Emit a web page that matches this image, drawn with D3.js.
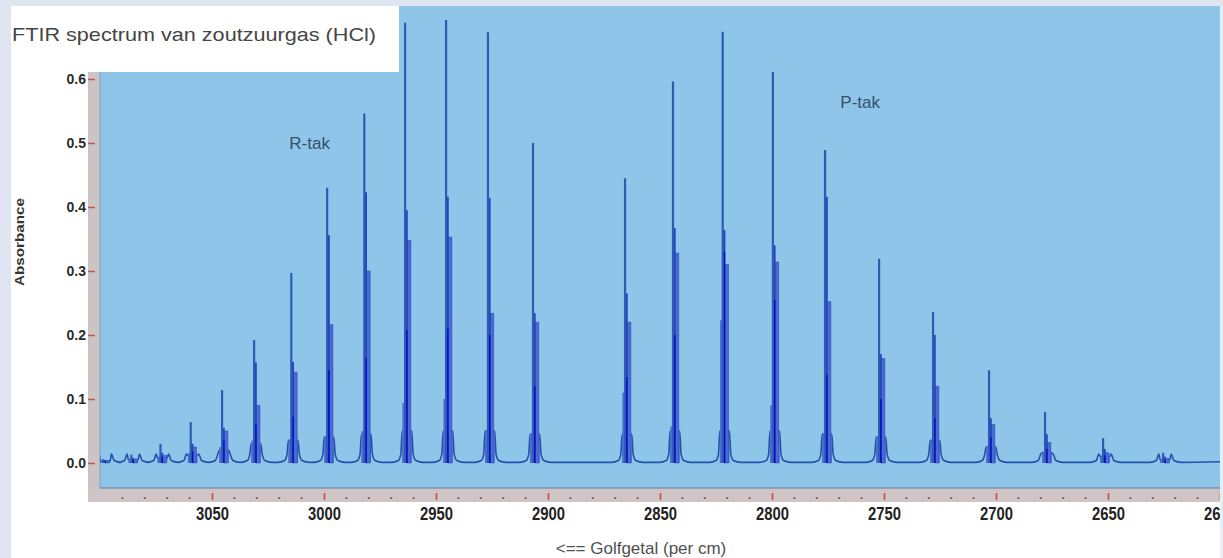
<!DOCTYPE html>
<html><head><meta charset="utf-8">
<script src="https://cdn.jsdelivr.net/npm/d3@7"></script>
<style>body{margin:0;background:#dfe6f1;} svg{display:block}</style>
</head><body><svg id="c" width="1223" height="558"></svg>
<script>
// ---- data ----
const peakWn  = [3098.5, 3086.0, 3073.0, 3059.5, 3045.5, 3031.2, 3014.6, 2998.6, 2982.0, 2963.8, 2945.5, 2926.8, 2906.7, 2865.6, 2844.2, 2822.0, 2799.6, 2776.3, 2752.2, 2728.1, 2703.1, 2678.1, 2652.2, 2625.4];
const mainH   = [0.006, 0.013, 0.030, 0.064, 0.114, 0.192, 0.297, 0.430, 0.546, 0.688, 0.692, 0.673, 0.500, 0.445, 0.596, 0.674, 0.611, 0.489, 0.319, 0.236, 0.145, 0.080, 0.039, 0.016];
const secondH = [0.004, 0.008, 0.016, 0.030, 0.055, 0.157, 0.158, 0.356, 0.423, 0.395, 0.416, 0.414, 0.234, 0.265, 0.367, 0.364, 0.340, 0.416, 0.170, 0.200, 0.070, 0.045, 0.022, 0.010];
const isoH    = [0.003, 0.006, 0.012, 0.025, 0.050, 0.090, 0.142, 0.216, 0.300, 0.348, 0.353, 0.234, 0.220, 0.220, 0.328, 0.310, 0.314, 0.252, 0.163, 0.120, 0.060, 0.032, 0.016, 0.007];
const coreH   = [0.002, 0.005, 0.010, 0.018, 0.035, 0.060, 0.072, 0.145, 0.164, 0.208, 0.210, 0.200, 0.120, 0.134, 0.200, 0.330, 0.255, 0.138, 0.100, 0.070, 0.040, 0.022, 0.012, 0.005];
const leftH   = [0.002, 0.004, 0.008, 0.015, 0.025, 0.035, 0.030, 0.023, 0.050, 0.094, 0.100, 0.050, 0.045, 0.110, 0.057, 0.223, 0.090, 0.036, 0.040, 0.030, 0.025, 0.015, 0.008, 0.004];
const wingH   = [0.003, 0.005, 0.008, 0.012, 0.020, 0.030, 0.035, 0.040, 0.045, 0.050, 0.050, 0.050, 0.045, 0.045, 0.050, 0.050, 0.050, 0.045, 0.040, 0.035, 0.025, 0.016, 0.010, 0.005];
const yTicks = [0.0, 0.1, 0.2, 0.3, 0.4, 0.5, 0.6];
const xTicks = [3050, 3000, 2950, 2900, 2850, 2800, 2750, 2700, 2650, 2600];
const xMinor = d3.range(3090, 2600, -10).filter(d => d % 50 !== 0);
const titleText = "FTIR spectrum van zoutzuurgas (HCl)";
const xTitle = "<== Golfgetal (per cm)";
const yTitle = "Absorbance";
const annotations = [{text: "R-tak", wn: 3015.5, v: 0.49}, {text: "P-tak", wn: 2769.5, v: 0.555}];

// ---- layout ----
const svg = d3.select("#c");
const x = d3.scaleLinear().domain([3100, 2600]).range([100, 1220]);
const y = d3.scaleLinear().domain([0, 0.6]).range([463, 79]);

svg.append("rect").attr("x", 0).attr("y", 0).attr("width", 1223).attr("height", 558).attr("fill", "#dfe6f1");
svg.append("rect").attr("x", 11).attr("y", 6).attr("width", 1209).attr("height", 552).attr("fill", "#ffffff");

svg.append("rect").attr("x", 88).attr("y", 72).attr("width", 12).attr("height", 430).attr("fill", "#cbc3c4");
svg.append("rect").attr("x", 88).attr("y", 488).attr("width", 1132).attr("height", 14).attr("fill", "#cfc5c6");

svg.append("rect").attr("x", 100).attr("y", 6).attr("width", 1120).attr("height", 482).attr("fill", "#8ec5e8");
svg.append("line").attr("x1", 100).attr("x2", 1220).attr("y1", 488).attr("y2", 488).attr("stroke", "#5d7e9c").attr("stroke-width", 1);
svg.append("line").attr("x1", 100).attr("x2", 100).attr("y1", 6).attr("y2", 488).attr("stroke", "#7ea2c0").attr("stroke-width", 1);

svg.append("clipPath").attr("id", "pc").append("rect").attr("x", 100).attr("y", 6).attr("width", 1120).attr("height", 482);
const g = svg.append("g").attr("clip-path", "url(#pc)");

const peaks = peakWn.map((wn, i) => ({wn, main: mainH[i], second: secondH[i], iso: isoH[i], core: coreH[i], left: leftH[i], wing: wingH[i]}));

// baseline with rounded wings rising into each line group
const pts = [[3101, 0.002]];
peaks.forEach(p => {
  pts.push([p.wn + 6, 0.001], [p.wn + 3.0, 0.004], [p.wn + 1.9, 0.014], [p.wn + 1.3, p.wing],
           [p.wn - 3.0, p.wing], [p.wn - 3.6, 0.014], [p.wn - 4.8, 0.004], [p.wn - 8, 0.001]);
});
pts.push([2599, 0.002]);
const line = d3.line().x(d => x(d[0])).y(d => y(d[1])).curve(d3.curveMonotoneX);
g.append("path").attr("d", line(pts)).attr("fill", "none").attr("stroke", "#2352ac").attr("stroke-width", 1.6);

const pg = g.selectAll("g.pk").data(peaks).join("g").attr("class", "pk");
// pedestal fill
pg.append("rect").attr("x", d => x(d.wn + 1.3)).attr("width", d => x(d.wn - 3.0) - x(d.wn + 1.3))
  .attr("y", d => y(d.wing) - 1).attr("height", d => y(0) - y(d.wing) + 1).attr("fill", "#4567cc");
// left shoulder block
pg.append("rect").attr("x", d => x(d.wn + 1.2)).attr("width", d => x(d.wn) - x(d.wn + 1.2))
  .attr("y", d => y(d.left)).attr("height", d => y(0) - y(d.left)).attr("fill", "#4d6fd0");
// iso (H37Cl) block
pg.append("rect").attr("x", d => x(d.wn - 1.0)).attr("width", d => x(d.wn - 2.6) - x(d.wn - 1.0))
  .attr("y", d => y(d.iso)).attr("height", d => y(0) - y(d.iso)).attr("fill", "#4a6cd0")
  .attr("stroke", "#2f55b8").attr("stroke-width", 0.6);
// second level
pg.append("rect").attr("x", d => x(d.wn)).attr("width", d => x(d.wn - 1.2) - x(d.wn))
  .attr("y", d => y(d.second)).attr("height", d => y(0) - y(d.second)).attr("fill", "#2545c2");
// dark core
pg.append("rect").attr("x", d => x(d.wn - 0.2)).attr("width", d => x(d.wn - 1.1) - x(d.wn - 0.2))
  .attr("y", d => y(d.core)).attr("height", d => y(0) - y(d.core)).attr("fill", "#0606cc");
// main spike
pg.append("line").attr("x1", d => x(d.wn)).attr("x2", d => x(d.wn))
  .attr("y1", y(0)).attr("y2", d => y(d.main)).attr("stroke", "#2d5cb4").attr("stroke-width", 2.2);

// annotations
svg.selectAll("text.ann").data(annotations).join("text").attr("class", "ann")
  .attr("x", d => x(d.wn)).attr("y", d => y(d.v)).text(d => d.text)
  .attr("font-family", "'Liberation Sans', Arial, sans-serif").attr("font-size", 17).attr("fill", "#34506c");

// y axis
const ya = svg.append("g").attr("transform", "translate(95,0)")
  .call(d3.axisLeft(y).tickValues(yTicks).tickFormat(d3.format(".1f")).tickSize(7).tickPadding(2));
ya.select(".domain").remove();
ya.selectAll(".tick line").attr("stroke", "#c05858").attr("stroke-width", 1.5);
ya.selectAll(".tick text").attr("font-family", "'Liberation Sans Narrow', 'Liberation Sans', Arial, sans-serif")
  .attr("font-weight", "bold").attr("font-size", 14).attr("fill", "#2a2a2a");

// x axis
const xa = svg.append("g").attr("transform", "translate(0,493)")
  .call(d3.axisBottom(x).tickValues(xTicks).tickFormat(d3.format("d")).tickSize(7).tickPadding(7));
xa.select(".domain").remove();
xa.selectAll(".tick line").attr("stroke", "#d04848").attr("stroke-width", 1.6);
xa.selectAll(".tick text").attr("font-family", "'Liberation Sans Narrow', 'Liberation Sans', Arial, sans-serif")
  .attr("font-weight", "bold").attr("font-size", 18).attr("fill", "#222")
  .attr("textLength", 33).attr("lengthAdjust", "spacingAndGlyphs");
svg.selectAll("rect.minor").data(xMinor).join("rect").attr("class", "minor")
  .attr("x", d => x(d) - 1).attr("y", 497).attr("width", 2).attr("height", 2).attr("fill", "#9a6060");

// axis titles
svg.append("text").attr("x", 641).attr("y", 554).attr("text-anchor", "middle").text(xTitle)
  .attr("font-family", "'Liberation Sans', Arial, sans-serif").attr("font-size", 17).attr("fill", "#505050");
svg.append("text").attr("transform", "translate(24,242) rotate(-90)").attr("text-anchor", "middle").text(yTitle)
  .attr("font-family", "'Liberation Sans', Arial, sans-serif").attr("font-weight", "bold").attr("font-size", 12)
  .attr("fill", "#333").attr("textLength", 88).attr("lengthAdjust", "spacingAndGlyphs");

// title box
svg.append("rect").attr("x", 11).attr("y", 6).attr("width", 388).attr("height", 66).attr("fill", "#ffffff");
svg.append("text").attr("x", 12).attr("y", 41).text(titleText)
  .attr("font-family", "'Liberation Sans', Arial, sans-serif").attr("font-size", 19).attr("fill", "#454545")
  .attr("textLength", 364).attr("lengthAdjust", "spacingAndGlyphs");

// right edge strip (the last tick label is cut here, as in the reference)
svg.append("rect").attr("x", 1220).attr("y", 0).attr("width", 3).attr("height", 558).attr("fill", "#e6eef8");
svg.append("rect").attr("x", 0).attr("y", 0).attr("width", 1223).attr("height", 6).attr("fill", "#dfe6f1");
</script></body></html>
